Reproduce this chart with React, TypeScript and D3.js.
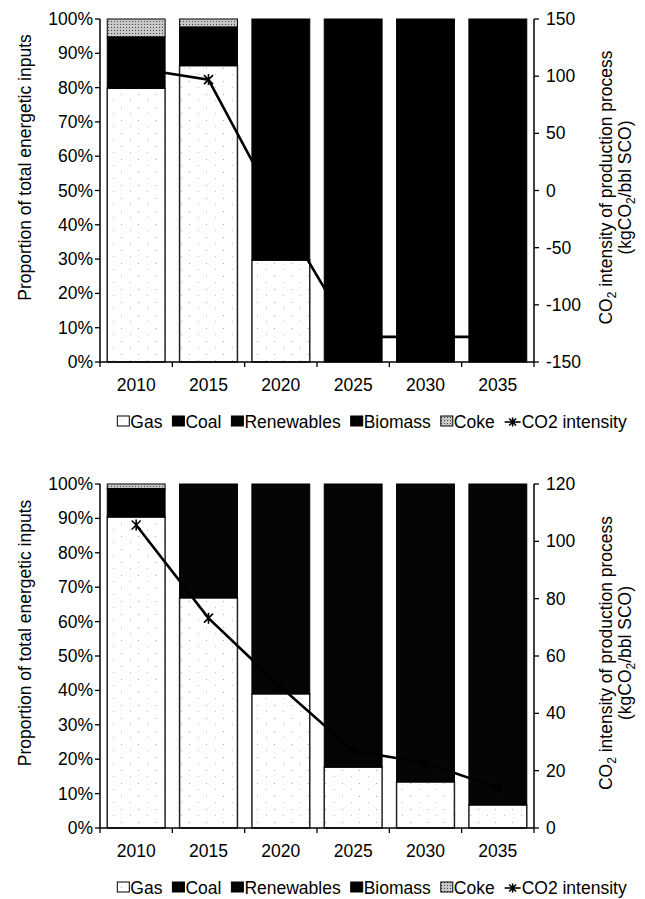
import React from "react";
import * as d3 from "d3";

const years = ["2010", "2015", "2020", "2025", "2030", "2035"];

// Scenario A (top chart), % of total energetic inputs
const gasA = [79.8, 86.4, 29.7, 0, 0, 0];
const coalA = [15.0, 11.3, 0, 0, 0, 0];
const renewA = [0, 0, 0, 0, 0, 0];
const biomassA = [0, 0, 70.3, 100, 100, 100];
const cokeA = [5.2, 2.3, 0, 0, 0, 0];
const co2A = [107, 97, -21, -128, -128, -128];
const rightTicksA = [-150, -100, -50, 0, 50, 100, 150];

// Scenario B (bottom chart)
const gasB = [90.4, 66.9, 39.0, 17.7, 13.4, 6.7];
const coalB = [8.3, 0, 0, 0, 0, 0];
const renewB = [0, 33.1, 61.0, 82.3, 86.6, 93.3];
const biomassB = [0, 0, 0, 0, 0, 0];
const cokeB = [1.3, 0, 0, 0, 0, 0];
const co2B = [105.7, 73.2, 49.2, 26.9, 22.7, 14];
const rightTicksB = [0, 20, 40, 60, 80, 100, 120];

const leftTicks = [0, 10, 20, 30, 40, 50, 60, 70, 80, 90, 100];
const legendLabels = ["Gas", "Coal", "Renewables", "Biomass", "Coke", "CO2 intensity"];

const FONT = "'Liberation Sans', Arial, Helvetica, sans-serif";
const FS = 17.5;
const keys = ["gas", "coal", "renew", "biomass", "coke"];
const fills: Record<string, string> = {
  gas: "url(#gasPat)",
  coal: "#000",
  renew: "#050505",
  biomass: "#000",
  coke: "url(#cokePat)",
};

function measure(text: string): number {
  try {
    const c = document.createElement("canvas").getContext("2d");
    if (c) {
      c.font = `${FS}px ${FONT}`;
      return c.measureText(text).width;
    }
  } catch (e) {}
  return text.length * FS * 0.5;
}

const Star = ({ x, y, s = 4.5 }: { x: number; y: number; s?: number }) => (
  <path
    d={`M${x - s},${y - s}L${x + s},${y + s}M${x - s},${y + s}L${x + s},${y - s}M${x},${y - s - 1}L${x},${y + s + 1}`}
    stroke="#000"
    strokeWidth={1.6}
    fill="none"
  />
);

function Legend({ y }: { y: number }) {
  const sym = 12;
  const gapSym = 1;
  const gapItem = 10;
  const items = legendLabels.map((l, i) => {
    const sw = i === 5 ? 16 : sym;
    return { l, sw, w: sw + gapSym + measure(l) };
  });
  const total = d3.sum(items, (d) => d.w) + gapItem * (items.length - 1);
  let x = 372 - total / 2;
  const out: React.ReactNode[] = [];
  items.forEach((it, i) => {
    const k = keys[i];
    if (i < 5) {
      out.push(
        <rect key={"s" + i} x={x} y={y - sym / 2} width={sym} height={sym - 2}
          fill={fills[k]} stroke="#000" strokeWidth={1} />
      );
    } else {
      out.push(<line key="sl" x1={x} x2={x + it.sw} y1={y} y2={y} stroke="#000" strokeWidth={1.6} />);
      out.push(<Star key="ss" x={x + it.sw / 2} y={y} s={3.5} />);
    }
    out.push(
      <text key={"t" + i} x={x + it.sw + gapSym} y={y + 6} fontSize={FS} fontFamily={FONT} fill="#000">
        {it.l}
      </text>
    );
    x += it.w + gapItem;
  });
  return <g>{out}</g>;
}

interface ChartProps {
  top: number;
  bottom: number;
  gas: number[];
  coal: number[];
  renew: number[];
  biomass: number[];
  coke: number[];
  co2: number[];
  rightTicks: number[];
}

function Chart({ top, bottom, gas, coal, renew, biomass, coke, co2, rightTicks }: ChartProps) {
  const left = 100;
  const right = 534;
  const x = d3.scaleBand<string>().domain(years).range([left, right]).paddingInner(0.2).paddingOuter(0.1);
  const y = d3.scaleLinear().domain([0, 100]).range([bottom, top]);
  const yr = d3
    .scaleLinear()
    .domain([rightTicks[0], rightTicks[rightTicks.length - 1]])
    .range([bottom, top]);
  const rows = years.map((yr_, i) => ({
    year: yr_,
    gas: gas[i],
    coal: coal[i],
    renew: renew[i],
    biomass: biomass[i],
    coke: coke[i],
  }));
  const series = d3.stack<any>().keys(keys)(rows);
  const bw = x.bandwidth();
  const cx = (yv: string) => (x(yv) as number) + bw / 2;
  const line = d3
    .line<number>()
    .x((_, i) => cx(years[i]))
    .y((d) => yr(d));
  const mid = (top + bottom) / 2;
  const leftTitleY = mid - 23;
  const rightTitleY = mid - 3;

  return (
    <g>
      {series.map((s) => (
        <g key={s.key}>
          {s.map((d, i) =>
            d[1] - d[0] > 0 ? (
              <rect
                key={i}
                x={x(years[i])}
                y={y(d[1])}
                width={bw}
                height={y(d[0]) - y(d[1])}
                fill={fills[s.key]}
                stroke={s.key === "gas" ? "#222" : "#000"}
                strokeWidth={s.key === "gas" ? 1.5 : 1}
              />
            ) : null
          )}
        </g>
      ))}
      <path d={line(co2) || ""} fill="none" stroke="#000" strokeWidth={2.6} />
      {co2.map((v, i) => (
        <Star key={i} x={cx(years[i])} y={yr(v)} />
      ))}
      {/* axes */}
      <line x1={left} x2={left} y1={top} y2={bottom} stroke="#000" strokeWidth={1.5} />
      <line x1={right} x2={right} y1={top} y2={bottom} stroke="#000" strokeWidth={1.5} />
      <line x1={left} x2={right} y1={bottom} y2={bottom} stroke="#000" strokeWidth={1.5} />
      {leftTicks.map((t) => (
        <g key={"l" + t}>
          <line x1={left - 5} x2={left} y1={y(t)} y2={y(t)} stroke="#000" strokeWidth={1.3} />
          <text x={left - 7} y={y(t) + 6} textAnchor="end" fontSize={FS} fontFamily={FONT}>
            {t + "%"}
          </text>
        </g>
      ))}
      {rightTicks.map((t) => (
        <g key={"r" + t}>
          <line x1={right} x2={right + 5} y1={yr(t)} y2={yr(t)} stroke="#000" strokeWidth={1.3} />
          <text x={right + 12} y={yr(t) + 6} textAnchor="start" fontSize={FS} fontFamily={FONT}>
            {t}
          </text>
        </g>
      ))}
      {d3.range(years.length + 1).map((k) => {
        const bx = left + k * x.step();
        return <line key={"b" + k} x1={bx} x2={bx} y1={bottom} y2={bottom + 5} stroke="#000" strokeWidth={1.3} />;
      })}
      {years.map((yv) => (
        <text key={yv} x={cx(yv)} y={bottom + 29} textAnchor="middle" fontSize={FS} fontFamily={FONT}>
          {yv}
        </text>
      ))}
      <text
        transform={`translate(31,${leftTitleY}) rotate(-90)`}
        textAnchor="middle"
        fontSize={FS}
        fontFamily={FONT}
      >
        Proportion of total energetic inputs
      </text>
      <text
        transform={`translate(612,${rightTitleY}) rotate(-90)`}
        textAnchor="middle"
        fontSize={FS}
        fontFamily={FONT}
      >
        CO<tspan fontSize={12} dy={4}>2</tspan>
        <tspan dy={-4}> intensity of production process</tspan>
      </text>
      <text
        transform={`translate(631,${rightTitleY}) rotate(-90)`}
        textAnchor="middle"
        fontSize={FS}
        fontFamily={FONT}
      >
        (kgCO<tspan fontSize={12} dy={4}>2</tspan>
        <tspan dy={-4}>/bbl SCO)</tspan>
      </text>
    </g>
  );
}

export default function App() {
  return (
    <svg
      width={645}
      height={899}
      viewBox="0 0 645 899"
      style={{ position: "absolute", left: 0, top: 0, background: "#fff" }}
    >
      <defs>
        <pattern id="gasPat" width={17} height={13} patternUnits="userSpaceOnUse">
          <rect width={17} height={13} fill="#fff" />
          <rect x={2} y={3} width={1} height={1} fill="#aaa" />
          <rect x={11} y={9} width={1} height={1} fill="#bbb" />
        </pattern>
        <pattern id="cokePat" width={3} height={3} patternUnits="userSpaceOnUse">
          <rect width={3} height={3} fill="#c8c8c8" />
          <rect x={0} y={0} width={1} height={1} fill="#444" />
        </pattern>
      </defs>
      <rect width={645} height={899} fill="#fff" />
      <Chart top={19} bottom={362} gas={gasA} coal={coalA} renew={renewA} biomass={biomassA}
        coke={cokeA} co2={co2A} rightTicks={rightTicksA} />
      <Legend y={422} />
      <Chart top={484} bottom={828} gas={gasB} coal={coalB} renew={renewB} biomass={biomassB}
        coke={cokeB} co2={co2B} rightTicks={rightTicksB} />
      <Legend y={888} />
    </svg>
  );
}
